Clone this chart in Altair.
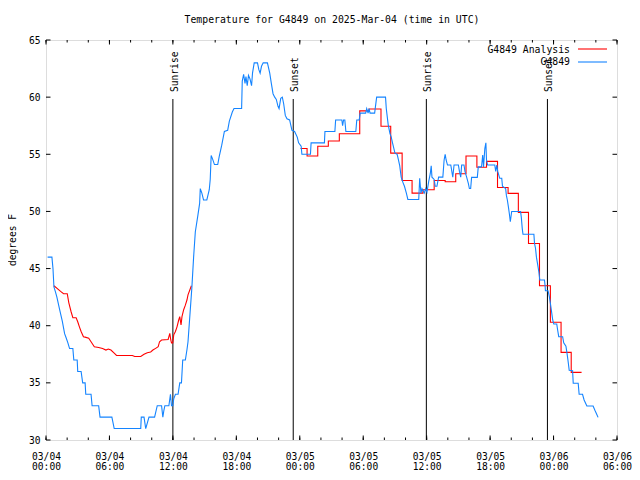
import altair as alt
import pandas as pd

TITLE = "Temperature for G4849 on 2025-Mar-04 (time in UTC)"
FONT = "DejaVu Sans Mono"
RED = "#ff0000"
BLUE = "#1484ff"

# hours since 2025-03-04 00:00 UTC, temperature (F)
obs = [(0.15,46.0),(0.56,46.0),(0.66,45.0),(0.75,43.4),(0.88,43.0),(1.03,42.5),(1.29,41.4),(1.54,40.4),(1.76,39.3),(1.92,38.9),
       (2.07,38.5),(2.23,38.0),(2.54,38.0),(2.63,37.0),(2.95,37.0),(3.00,36.0),(3.32,36.0),(3.47,35.0),(3.70,35.0),(3.76,34.0),
       (4.26,34.0),(4.36,33.0),(4.98,33.0),(5.11,32.0),(6.23,32.0),(6.45,31.0),(8.96,31.0),(9.01,32.0),(9.27,32.0),(9.43,31.0),
       (9.74,32.0),(10.27,32.0),(10.52,33.0),(10.93,33.0),(11.05,32.0),(11.15,32.6),(11.24,33.0),(11.62,33.0),(11.77,34.0),(11.87,33.0),
       (11.99,33.0),(12.08,33.6),(12.24,34.0),(12.49,34.0),(12.65,35.0),(12.81,35.0),(12.93,37.0),(13.18,37.0),(13.33,37.9),(13.43,38.6),
       (13.80,43.4),(13.96,46.0),(14.12,48.2),(14.37,49.7),(14.53,50.7),(14.59,52.0),(14.74,51.6),(14.90,51.0),(15.21,51.0),(15.44,51.9),
       (15.53,52.8),(15.62,54.9),(15.75,54.6),(15.93,54.1),(16.24,54.1),(16.38,54.8),(16.62,55.8),(16.87,57.0),(17.18,57.1),(17.34,57.9),
       (17.62,58.7),(17.78,59.0),(18.50,59.0),(18.56,61.4),(18.69,62.0),(18.82,61.2),(18.91,61.8),(19.03,61.0),(19.15,61.9),(19.29,61.6),
       (19.44,61.0),(19.53,62.1),(19.69,63.0),(20.00,63.0),(20.13,62.4),(20.25,62.1),(20.38,62.7),(20.54,63.0),(20.94,63.0),(21.16,62.1),
       (21.31,61.2),(21.47,60.3),(21.63,60.0),(21.78,59.8),(21.94,59.2),(22.04,59.0),(22.20,59.9),(22.35,60.0),(22.48,59.4),(22.63,58.4),
       (22.79,58.1),(23.04,58.0),(23.26,57.1),(23.51,57.0),(23.76,56.5),(23.89,56.0),(24.13,55.7),(24.20,55.0),(25.01,55.0),(25.07,56.0),
       (26.33,56.0),(26.38,57.0),(27.32,57.0),(27.39,58.0),(27.98,58.0),(28.05,57.5),(28.14,58.0),(28.26,58.0),(28.36,57.0),(29.30,57.0),
       (29.39,58.0),(29.62,58.0),(29.71,58.6),(30.23,58.6),(30.33,59.0),(30.46,58.6),(30.55,59.0),(30.65,58.6),(31.08,58.6),(31.27,60.0),
       (32.11,60.0),(32.18,59.0),(32.36,57.6),(32.53,56.8),(32.65,56.5),(32.77,56.0),(32.90,55.5),(33.00,55.1),(33.21,55.0),(33.31,54.6),
       (33.45,54.0),(33.59,53.0),(33.77,52.5),(33.90,52.2),(34.08,51.6),(34.22,51.05),(35.25,51.05),(35.34,52.9),(35.46,51.6),(35.56,52.0),
       (35.77,51.6),(35.91,52.0),(36.03,51.7),(36.19,52.6),(36.34,53.3),(36.43,54.0),(36.50,53.0),(36.71,52.8),(36.81,52.2),(36.97,52.2),
       (37.13,53.0),(37.53,53.0),(37.65,54.5),(37.75,55.0),(37.84,54.5),(37.97,54.06),(38.28,54.06),(38.47,53.0),(38.59,54.06),(39.00,54.06),
       (39.10,53.5),(39.22,53.0),(39.31,54.06),(39.53,54.06),(39.62,53.5),(39.78,53.0),(39.94,52.45),(40.04,52.0),(40.16,52.0),(40.25,52.98),
       (40.79,52.98),(40.88,53.9),(41.19,53.9),(41.30,54.94),(41.38,53.9),(41.50,55.5),(41.60,56.0),(41.66,54.5),(41.76,54.06),(42.44,54.06),
       (42.53,53.5),(42.63,54.06),(42.72,53.5),(42.91,52.9),(43.10,52.9),(43.17,52.2),(43.47,52.0),(43.54,51.4),(43.63,51.0),(43.73,50.4),
       (43.82,49.8),(43.91,49.1),(44.04,50.0),(44.88,50.0),(44.95,49.5),(45.04,48.5),(45.11,48.0),(46.14,48.0),(46.20,47.2),(46.29,46.8),
       (46.38,46.0),(46.48,45.45),(46.61,44.7),(46.70,44.0),(47.14,44.0),(47.20,43.5),(47.23,43.06),(47.48,43.06),(47.61,42.5),(47.70,41.96),
       (47.79,41.37),(47.92,40.5),(48.02,40.15),(48.30,40.15),(48.39,39.6),(48.49,39.04),(48.86,39.04),(48.96,38.5),(49.17,38.2),(49.27,37.6),
       (49.36,37.0),(49.48,36.1),(49.80,36.06),(49.86,34.96),(50.33,34.96),(50.42,34.0),(50.74,34.0),(50.89,33.5),(51.15,32.98),(51.74,32.98),
       (51.93,32.56),(52.06,32.3),(52.21,31.98)]

# analysis, overnight segment
ana_night = [(0.75,43.5),(1.13,43.2),(1.38,43.0),(1.66,42.8),(2.01,42.8),(2.16,42.0),(2.38,41.2),(2.54,40.7),(2.85,40.7),(3.00,40.35),
             (3.16,39.9),(3.32,39.5),(3.54,39.04),(3.70,39.0),(4.04,38.9),(4.26,38.6),(4.57,38.16),(4.98,38.1),(5.35,38.0),(5.67,37.87),
             (5.89,37.96),(6.14,37.87),(6.45,37.6),(6.67,37.4),(8.17,37.4),(8.39,37.3),(8.96,37.3),(9.27,37.5),(9.58,37.64),(9.90,37.7),
             (10.11,37.87),(10.37,38.02),(10.61,38.16),(10.74,38.6),(10.93,38.75),(11.55,38.8),(11.71,39.33),(11.80,38.75),(11.87,38.5),(11.99,38.5),
             (12.08,39.2),(12.24,39.5),(12.39,39.9),(12.55,40.5),(12.65,40.8),(12.77,40.06),(12.86,40.8),(13.02,41.4),(13.18,41.8),(13.33,42.25),
             (13.43,42.7),(13.75,43.5)]

# analysis, hourly steps after sunset
ana_hourly = [(24.07,55.5),(24.69,54.85),(25.70,55.7),(26.70,56.16),(27.74,56.8),(29.67,58.8),(30.55,58.96),(31.68,57.45),(32.60,55.1),
              (33.68,52.7),(34.62,51.6),(35.65,51.9),(36.71,52.7),(37.75,52.6),(38.75,53.3),(39.72,54.85),(40.75,53.86),(41.66,54.38),
              (42.70,52.1),(43.70,51.58),(44.67,49.92),(45.63,47.2),(46.67,43.5),(47.70,40.3),(48.71,37.67),(49.67,35.92),(50.65,35.92)]

sun_hours = [12.0, 23.38, 35.97, 47.42]
sun_labels = ["Sunrise", "Sunset", "Sunrise", "Sunset"]
x_major = list(range(0, 55, 6))
x_minor = list(range(0, 55, 2))
y_major = list(range(30, 66, 5))

W, H = 571, 400

df_obs = pd.DataFrame(obs, columns=["h", "t"])
df_n = pd.DataFrame(ana_night, columns=["h", "t"])
df_s = pd.DataFrame(ana_hourly, columns=["h", "t"])
df_sun = pd.DataFrame({"h": sun_hours, "label": sun_labels})
df_xM = pd.DataFrame({"h": x_major})
df_xm = pd.DataFrame({"h": x_minor})
df_y = pd.DataFrame({"t": y_major})
one = pd.DataFrame({"a": [0]})

xs = alt.Scale(domain=[0, 54], nice=False, zero=False)
ys = alt.Scale(domain=[30, 65], nice=False, zero=False)

label_expr = ("['03/0' + (4 + floor(datum.value / 24)), "
              "((datum.value % 24) < 10 ? '0' : '') + (datum.value % 24) + ':00']")

x_axis = alt.Axis(values=x_major, labelExpr=label_expr, ticks=False, domain=False, grid=False,
                  labelFont=FONT, labelFontSize=9.6, labelColor="black", labelPadding=11,
                  labelLineHeight=10.5, labelBaseline="top", labelFlush=False, labelOverlap=False, title=None)
y_axis = alt.Axis(values=y_major, ticks=False, domain=False, grid=False,
                  labelFont=FONT, labelFontSize=9.6, labelColor="black", labelPadding=6,
                  labelOverlap=False, title=None)

X = alt.X("h:Q", scale=xs, axis=x_axis)
Y = alt.Y("t:Q", scale=ys, axis=y_axis)

blue = alt.Chart(df_obs).mark_line(color=BLUE, strokeWidth=1.1).encode(x=X, y=Y)
red1 = alt.Chart(df_n).mark_line(color=RED, strokeWidth=1.1).encode(x=X, y=Y)
red2 = alt.Chart(df_s).mark_line(color=RED, strokeWidth=1.1, interpolate="step-after").encode(x=X, y=Y)

sun_rules = alt.Chart(df_sun).mark_rule(color="black", strokeWidth=1).encode(
    x=X, y=alt.value(59), y2=alt.value(H))
sun_text = alt.Chart(df_sun).mark_text(angle=270, align="left", baseline="middle", font=FONT,
                                       fontSize=9.6, color="black", dy=2).encode(
    x=X, y=alt.value(52), text="label:N")

def xticks(df, y0, y1):
    return alt.Chart(df).mark_rule(color="black", strokeWidth=1).encode(
        x=X, y=alt.value(y0), y2=alt.value(y1))

def yticks(x0, x1):
    return alt.Chart(df_y).mark_rule(color="black", strokeWidth=1).encode(
        y=Y, x=alt.value(x0), x2=alt.value(x1))

ticks = [xticks(df_xM, H, H - 4.5), xticks(df_xM, 0, 4.5), xticks(df_xm, H, H - 2.5), xticks(df_xm, 0, 2.5),
         yticks(0, 4.5), yticks(W, W - 4.5)]

def label(txt, x, y, **kw):
    return alt.Chart(pd.DataFrame({"t": [txt]})).mark_text(
        font=FONT, color="black", baseline="middle", **kw).encode(
        text="t:N", x=alt.value(x), y=alt.value(y))

title = label(TITLE, 286, -20, fontSize=9.8, align="center")
ytitle = label("degrees F", -33, 200, fontSize=9.6, align="center", angle=270)
leg_t1 = label("G4849 Analysis", 524, 10, fontSize=9.8, align="right")
leg_t2 = label("G4849", 524, 22, fontSize=9.8, align="right")
leg_red = alt.Chart(one).mark_rule(color=RED, strokeWidth=1.1).encode(
    x=alt.value(532), x2=alt.value(561), y=alt.value(9))
leg_blue = alt.Chart(one).mark_rule(color=BLUE, strokeWidth=1.1).encode(
    x=alt.value(532), x2=alt.value(561), y=alt.value(22))

chart = alt.layer(
    sun_rules, sun_text, red1, red2, blue, *ticks, title, ytitle, leg_t1, leg_t2, leg_red, leg_blue
).properties(
    width=W, height=H,
    autosize=alt.AutoSizeParams(type="none"),
    padding={"left": 38, "top": 32, "right": 15, "bottom": 32},
).configure_view(stroke="black", strokeWidth=1).configure(background="white")

chart.save("out.html", embed_options={"renderer": "svg", "actions": False})
